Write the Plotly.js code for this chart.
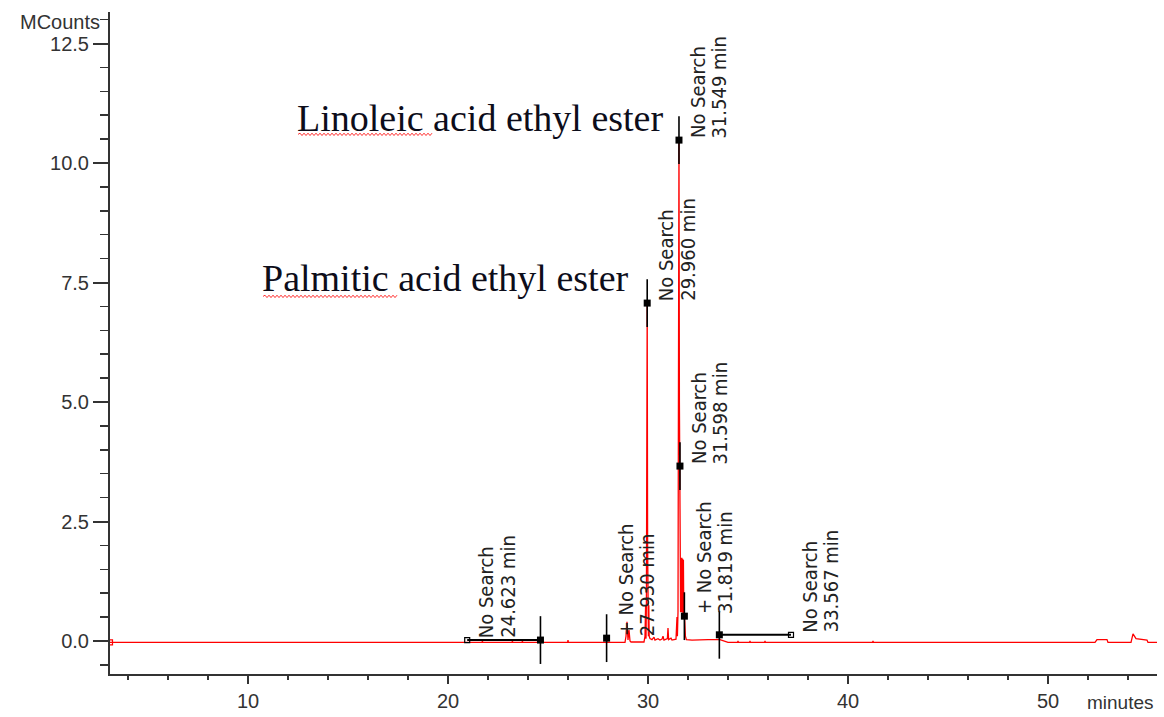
<!DOCTYPE html>
<html>
<head>
<meta charset="utf-8">
<script src="https://cdn.plot.ly/plotly-3.0.1.min.js"></script>
<style>html,body{margin:0;padding:0;background:#fff;}#chart{width:1164px;height:717px;}</style>
</head>
<body>
<div id="chart"></div>
<script>
// ---- chromatogram (minutes vs MCounts) ----
const timeMin = [3.1, 21.7, 21.72, 21.74, 23.2, 23.22, 23.24, 23.7, 23.72, 23.74, 25.98, 26.0, 26.02,
  28.85, 28.9, 28.95, 29.0, 29.05, 29.1, 29.15, 29.8, 29.85, 29.88, 29.9, 29.92, 29.94, 29.96, 29.98, 30.0, 30.02, 30.04, 30.06,
  30.1, 30.2, 30.3, 30.35, 30.5, 30.6, 30.7, 30.75, 30.8, 30.9, 30.97, 31.0, 31.03, 31.15, 31.2, 31.3, 31.4, 31.45, 31.47, 31.5,
  31.52, 31.549, 31.57, 31.598, 31.61, 31.63, 31.65, 31.67, 31.69, 31.71, 31.73, 31.75, 31.77, 31.79, 31.819, 31.84, 31.87, 31.92,
  32.2, 33.0, 33.6, 34.0, 34.48, 34.5, 34.52, 35.08, 35.1, 35.12, 35.83, 35.85, 35.87, 41.23, 41.25, 41.27,
  52.35, 52.45, 52.95, 53.0, 54.15, 54.25, 54.4, 54.95, 55.0, 55.45];
const mCounts = [-0.03, -0.03, 0.0, -0.03, -0.03, 0.0, -0.03, -0.03, 0.0, -0.03, -0.03, 0.02, -0.03,
  -0.03, 0.1, 0.4, 0.02, 0.23, 0.0, -0.02, -0.02, 0.1, 0.75, 0.05, 0.8, 2.5, 7.07, 2.0, 0.8, 0.1, 0.75, 0.1,
  0.05, 0.03, 0.08, 0.02, 0.05, 0.02, 0.04, 0.1, 0.02, 0.03, 0.05, 0.27, 0.03, 0.06, 0.02, 0.03, 0.04, 0.5, 0.1, 0.6,
  3.0, 10.48, 5.0, 3.66, 1.74, 0.6, 1.74, 0.6, 1.74, 0.6, 1.72, 0.55, 1.7, 0.5, 0.52, 0.4, 0.1, 0.03,
  0.02, 0.03, 0.03, -0.03, -0.03, 0.0, -0.03, -0.03, 0.0, -0.03, -0.03, 0.0, -0.03, -0.03, 0.0, -0.03,
  -0.03, 0.03, 0.03, -0.03, -0.03, 0.15, 0.05, 0.02, -0.03, -0.03];

// ---- peak labels ----
const peakTimes   = [24.623, 27.930, 29.960, 31.549, 31.598, 31.819, 33.567];
const peakHeights = [0.02, 0.06, 7.07, 10.48, 3.66, 0.52, 0.13];
const peakPrefix  = ["", "+ ", "", "", "", "+ ", ""];
const labelTimes  = [20.96, 27.930, 29.960, 31.549, 31.598, 31.819, 37.15];
const peakText    = "No Search";

// baseline markers (start time, end time, level)
const baseStart = [20.96, 33.567];
const baseEnd   = [24.623, 37.15];
const baseLevel = [0.02, 0.13];
const baseOpenEnd = [20.96, 37.15];

// compound names
const compoundNames = ["Linoleic acid ethyl ester", "Palmitic acid ethyl ester"];
const compoundLeft  = [12.5, 10.75];
const compoundY     = [10.95, 7.6];

const xRange = [3.1, 55.45];
const yRange = [-0.69, 13.16];
const M = {l:110, r:7, t:12, b:43};
const W = 1164, H = 717;
const pxX = (W - M.l - M.r) / (xRange[1] - xRange[0]);
const pxY = (H - M.t - M.b) / (yRange[1] - yRange[0]);

const traces = [];
traces.push({x: timeMin, y: mCounts, mode: 'lines', line: {color: '#ff0000', width: 1.3}, hoverinfo: 'skip'});
traces.push({x: [timeMin[0]], y: [mCounts[0]], mode: 'markers', marker: {symbol: 'square-open', size: 5, color: '#ff0000', line: {width: 1.2, color: '#ff0000'}}, hoverinfo: 'skip'});

// baseline segments
for (let i = 0; i < baseStart.length; i++) {
  traces.push({x: [baseStart[i], baseEnd[i]], y: [baseLevel[i], baseLevel[i]], mode: 'lines', line: {color: '#000', width: 2}, hoverinfo: 'skip'});
  traces.push({x: [baseOpenEnd[i]], y: [baseLevel[i]], mode: 'markers',
    marker: {symbol: 'square-open', size: 5, color: '#000', line: {width: 1.2, color: '#000'}}, hoverinfo: 'skip'});
}
// peak markers with vertical bars
traces.push({x: peakTimes, y: peakHeights, mode: 'markers',
  marker: {symbol: 'square', size: 7, color: '#000'},
  error_y: {type: 'constant', value: 0.5, width: 0, thickness: 1.6, color: '#000'}, hoverinfo: 'skip'});

const narrow = "'Liberation Sans Narrow', 'Arial Narrow', 'DejaVu Sans Condensed', sans-serif";
const annotations = [];
for (let i = 0; i < peakTimes.length; i++) {
  const lines = [peakPrefix[i] + peakText, peakTimes[i].toFixed(3) + ' min'];
  for (let j = 0; j < 2; j++) {
    annotations.push({x: labelTimes[i], y: peakHeights[i], xref: 'x', yref: 'y', text: lines[j], showarrow: false,
      textangle: -90, xanchor: 'left', yanchor: 'bottom', xshift: 5 + j * 21, yshift: 0,
      font: {family: narrow, size: 20, color: '#222'}});
  }
}
const serifSize = 38;
for (let i = 0; i < compoundNames.length; i++) {
  annotations.push({x: compoundLeft[i], y: compoundY[i], xref: 'x', yref: 'y', text: compoundNames[i], showarrow: false,
    xanchor: 'left', yanchor: 'middle', xshift: -3, font: {family: "'Liberation Serif', 'Times New Roman', serif", size: serifSize, color: '#0d0d1a'}});
}
annotations.push({x: 0, y: 1 - 10 / (H - M.t - M.b), xref: 'paper', yref: 'paper', text: 'MCounts', showarrow: false,
  xanchor: 'right', yanchor: 'middle', xshift: -8, font: {family: 'Liberation Sans, Arial, sans-serif', size: 20, color: '#333'}});
annotations.push({x: 1, y: -29 / (H - M.t - M.b), xref: 'paper', yref: 'paper', text: 'minutes', showarrow: false,
  xanchor: 'right', yanchor: 'middle', xshift: -1, font: {family: 'Liberation Sans, Arial, sans-serif', size: 19, color: '#333'}});

// wavy red spell-check underlines under the first word
function wavy(x0, lenPx, y) {
  let d = 'M' + x0 + ',' + y;
  const n = Math.round(lenPx / 2);
  for (let k = 1; k <= n; k++) {
    const xx = x0 + k * 2 / pxX;
    const yy = y + ((k % 2) ? 1.2 : -1.2) / pxY;
    d += ' L' + xx.toFixed(4) + ',' + yy.toFixed(4);
  }
  return d;
}
const shapes = [];
const underlineLenPx = [134, 134];
const underlineY = [10.6, 7.21];
for (let i = 0; i < compoundLeft.length; i++) {
  shapes.push({type: 'path', xref: 'x', yref: 'y', path: wavy(compoundLeft[i], underlineLenPx[i], underlineY[i]),
    line: {color: '#ff3030', width: 1}});
}

const layout = {
  width: W, height: H, margin: M, showlegend: false,
  paper_bgcolor: '#fff', plot_bgcolor: '#fff',
  xaxis: {range: xRange, tick0: 0, dtick: 10, ticks: 'outside', ticklen: 8, tickwidth: 2, tickcolor: '#333',
    showline: true, linecolor: '#333', linewidth: 2, showgrid: false, zeroline: false,
    minor: {dtick: 2, tick0: 0, ticks: 'outside', ticklen: 4, tickwidth: 1.5, tickcolor: '#333', showgrid: false},
    tickfont: {family: 'Liberation Sans, Arial, sans-serif', size: 20, color: '#333'}},
  yaxis: {range: yRange, tick0: 0, dtick: 2.5, tickformat: '.1f', ticks: 'outside', ticklen: 15, tickwidth: 2, tickcolor: '#333',
    showline: true, linecolor: '#333', linewidth: 2, showgrid: false, zeroline: false,
    minor: {dtick: 0.5, tick0: 0, ticks: 'outside', ticklen: 8, tickwidth: 1.5, tickcolor: '#333', showgrid: false},
    tickfont: {family: 'Liberation Sans, Arial, sans-serif', size: 20, color: '#333'}},
  annotations: annotations, shapes: shapes
};
Plotly.newPlot('chart', traces, layout, {displayModeBar: false, staticPlot: true});
</script>
</body>
</html>
